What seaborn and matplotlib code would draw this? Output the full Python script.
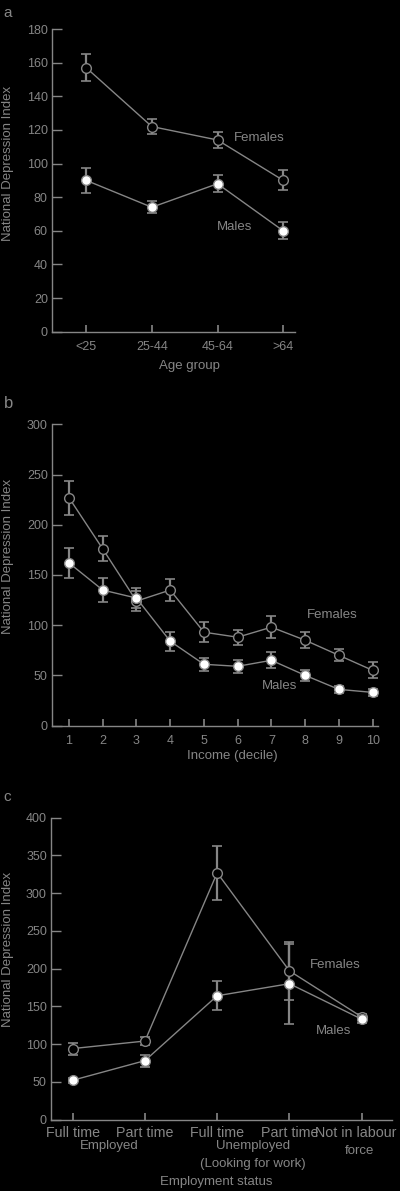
import numpy as np
import pandas as pd
import matplotlib
matplotlib.use("Agg")
import matplotlib.pyplot as plt
import matplotlib.transforms as mtransforms
import seaborn as sns

# ---------------- data ----------------
age_groups = ["<25", "25-44", "45-64", ">64"]
age_female = [157, 122, 114, 90]
age_female_err = [8, 4.5, 5, 6]
age_male = [90, 74, 88, 60]
age_male_err = [7.5, 3.5, 5, 5]

deciles = ["1", "2", "3", "4", "5", "6", "7", "8", "9", "10"]
inc_female = [227, 176, 124, 135, 93, 88, 98, 85, 70, 55]
inc_female_err = [17, 12.5, 10, 11, 10, 7.5, 11, 8, 6, 8]
inc_male = [162, 135, 127, 84, 61, 59, 65, 50, 36, 33]
inc_male_err = [15, 12, 10, 9.5, 6.5, 6.5, 8, 5.5, 3.5, 3.5]

emp_cats = ["Full time", "Part time", "Full time", "Part time", "Not in labour"]
emp_female = [94, 104, 327, 197, 136]
emp_female_err = [8, 5.5, 36, 38, 4]
emp_male = [52, 78, 164, 180, 133]
emp_male_err = [3, 8, 19, 53, 5]

# ---------------- style ----------------
GRAY = "#868686"
sns.set_style("ticks")
plt.rcParams["font.family"] = ["Liberation Sans", "DejaVu Sans"]
plt.rcParams.update({
    "figure.facecolor": "black",
    "axes.facecolor": "black",
    "savefig.facecolor": "black",
    "text.color": GRAY,
    "axes.edgecolor": GRAY,
    "axes.labelcolor": GRAY,
    "xtick.color": GRAY,
    "ytick.color": GRAY,
    "axes.linewidth": 1.0,
})

W, H = 400, 1191
fig = plt.figure(figsize=(W / 100, H / 100), dpi=100)


def fy(py):
    return 1 - py / H


def make_ax(left_px, right_px, top_px, bottom_px):
    return fig.add_axes([left_px / W, fy(bottom_px), (right_px - left_px) / W,
                         (bottom_px - top_px) / H])


def draw_panel(ax, labels, fem, fem_err, mal, mal_err):
    n = len(labels)
    df = pd.DataFrame({
        "pos": list(range(n)) * 2,
        "value": list(fem) + list(mal),
        "err": list(fem_err) + list(mal_err),
        "sex": ["Females"] * n + ["Males"] * n,
    })
    for sex, fc in [("Females", "black"), ("Males", "white")]:
        sub = df[df["sex"] == sex]
        ax.errorbar(sub["pos"], sub["value"], yerr=sub["err"], fmt="none",
                    ecolor=GRAY, elinewidth=1.6, capsize=3.5, capthick=1.2,
                    zorder=2)
        sns.lineplot(data=sub, x="pos", y="value", ax=ax, color=GRAY,
                     lw=1.0, marker="o", markersize=7, markerfacecolor=fc,
                     markeredgecolor=GRAY, markeredgewidth=1.0,
                     errorbar=None, legend=False, zorder=3)
    ax.set_xticks(range(n))
    ax.set_xticklabels(labels)
    ax.set_xlabel("")
    ax.set_ylabel("")
    for s in ["top", "right"]:
        ax.spines[s].set_visible(False)
    ax.tick_params(axis="y", direction="in", length=7, width=1, pad=3,
                   labelsize=9)
    ax.tick_params(axis="x", direction="in", length=5, width=1.2, pad=7,
                   labelsize=9)


# ---------------- panel a ----------------
ax_a = make_ax(52, 295, 29, 331.7)
draw_panel(ax_a, age_groups, age_female, age_female_err, age_male, age_male_err)
ax_a.set_ylim(0, 180)
ax_a.set_yticks(range(0, 181, 20))
ax_a.set_xlim(-0.52, 3.18)
ax_a.text(2.64, 115, "Females", ha="center", va="center", fontsize=9.5)
ax_a.text(2.26, 62, "Males", ha="center", va="center", fontsize=9.5)
fig.text(189 / W, fy(365.7), "Age group", ha="center", va="center", fontsize=9.5)
fig.text(8 / W, fy(163), "National Depression Index", rotation=90,
         ha="center", va="center", fontsize=9.5)
fig.text(8 / W, fy(13), "a", ha="center", va="center", fontsize=11)

# ---------------- panel b ----------------
ax_b = make_ax(52, 378, 424.5, 725.5)
draw_panel(ax_b, deciles, inc_female, inc_female_err, inc_male, inc_male_err)
ax_b.set_ylim(0, 300)
ax_b.set_yticks(range(0, 301, 50))
ax_b.set_xlim(-0.504, 9.16)
ax_b.text(7.8, 110, "Females", ha="center", va="center", fontsize=9.5)
ax_b.text(6.23, 39, "Males", ha="center", va="center", fontsize=9.5)
fig.text(232 / W, fy(755.7), "Income (decile)", ha="center", va="center",
         fontsize=9.5)
fig.text(8 / W, fy(556), "National Depression Index", rotation=90,
         ha="center", va="center", fontsize=9.5)
fig.text(9 / W, fy(403), "b", ha="center", va="center", fontsize=12)

# ---------------- panel c ----------------
ax_c = make_ax(51, 392, 817.7, 1119.5)
draw_panel(ax_c, emp_cats, emp_female, emp_female_err, emp_male, emp_male_err)
ax_c.set_ylim(0, 400)
ax_c.set_yticks(range(0, 401, 50))
ax_c.set_xlim(-0.30, 4.42)
ax_c.tick_params(axis="x", labelsize=10.3, pad=5)
# nudge the last category label so it stays inside the canvas
last = ax_c.get_xticklabels()[-1]
last.set_transform(last.get_transform() +
                   mtransforms.ScaledTranslation(-4 / 72, 0, fig.dpi_scale_trans))
ax_c.text(3.63, 205, "Females", ha="center", va="center", fontsize=9.5)
ax_c.text(3.61, 117, "Males", ha="center", va="center", fontsize=9.5)
bt = mtransforms.blended_transform_factory(ax_c.transData, fig.transFigure)
ax_c.text(0.5, fy(1145.7), "Employed", transform=bt, ha="center", va="center",
          fontsize=9.5)
ax_c.text(2.5, fy(1145.7), "Unemployed", transform=bt, ha="center",
          va="center", fontsize=9.5)
ax_c.text(2.5, fy(1164.3), "(Looking for work)", transform=bt, ha="center",
          va="center", fontsize=9.5)
ax_c.text(3.97, fy(1150.7), "force", transform=bt, ha="center", va="center",
          fontsize=9.5)
fig.text(216.7 / W, fy(1182.3), "Employment status", ha="center",
         va="center", fontsize=9.5)
fig.text(8 / W, fy(949), "National Depression Index", rotation=90,
         ha="center", va="center", fontsize=9.5)
fig.text(7 / W, fy(797), "c", ha="center", va="center", fontsize=11)

fig.savefig("out.png", dpi=100, facecolor="black")
